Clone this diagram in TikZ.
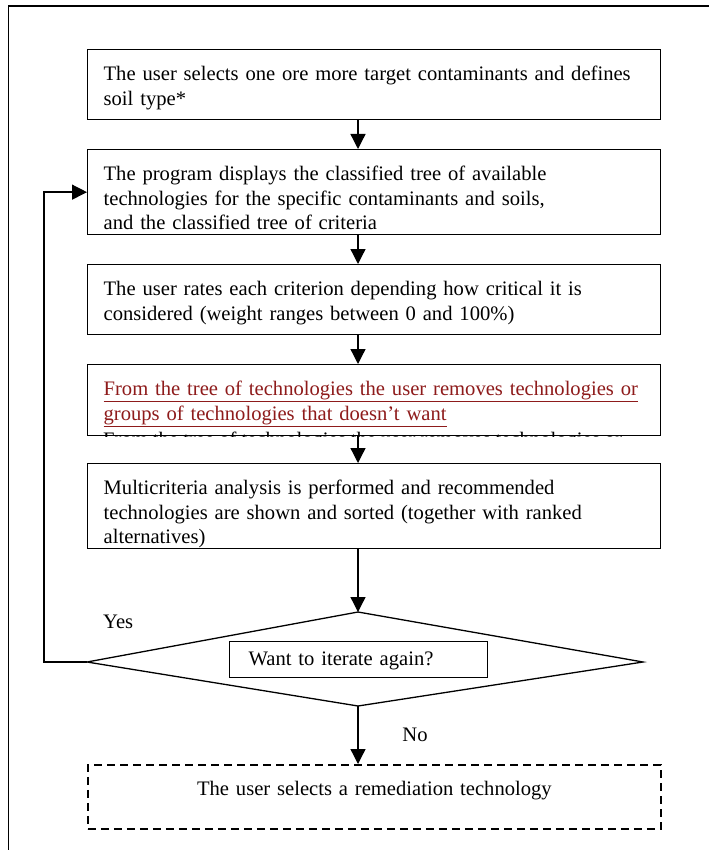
\documentclass[tikz,border=0pt]{standalone}
\usepackage{fontspec}
\setmainfont{Liberation Serif}
\usetikzlibrary{arrows.meta}
\definecolor{Ink}{HTML}{000000}
\definecolor{Rust}{HTML}{8E1B1B}

\begin{document}
\hyphenpenalty=10000
\exhyphenpenalty=10000
\begin{tikzpicture}[x=1pt,y=-1pt,
  stepbox/.style={draw=Ink,line width=1.3pt,fill=white,anchor=north west,
    minimum width=573pt,inner xsep=16pt,inner ysep=0pt,text width=541pt,
    align=left,text height=31pt,text depth=#1},
  askbox/.style={draw=Ink,line width=1.3pt,fill=white,anchor=north west,
    inner xsep=19pt,inner ysep=0pt,text width=220pt,align=left,
    text height=24pt,text depth=12pt},
  endbox/.style={draw=Ink,line width=1.8pt,dash pattern=on 8pt off 5pt,
    anchor=north west,minimum width=573pt,inner xsep=16pt,inner ysep=0pt,
    text width=541pt,align=center,text height=31pt,text depth=33pt},
  flow/.style={draw=Ink,line width=1.3pt,-{Triangle[length=15pt,width=15pt]}},
  every node/.style={text=Ink,font=\fontsize{20.6}{24.5}\selectfont}]
  \useasboundingbox (0,0) rectangle (709,850);
  % frame
  \draw[line width=1.8pt] (8.5,850) -- (8.5,6) -- (709,6);
  % steps
  \node[stepbox=39pt] (pick) at (87,49) {The user selects one ore more target contaminants and defines\\
    soil type*};
  \node[stepbox=54pt] (show) at (87,149) {The program displays the classified tree of available\\
    technologies for the specific contaminants and soils,\\
    and the classified tree of criteria};
  \node[stepbox=39pt] (rate) at (87,264) {The user rates each criterion depending how critical it is\\
    considered (weight ranges between 0 and 100\%)};
  \node[stepbox=40pt] (cut) at (87,364) {\textcolor{Rust}{\underline{From the tree of technologies the user removes technologies or}}\\
    \textcolor{Rust}{\underline{groups of technologies that doesn’t want}}};
  \begin{scope}
    \clip (cut.south west) rectangle (cut.north east);
    \node[anchor=base west,inner sep=0pt] (cutrest) at (103,446) {From the tree of technologies the user removes technologies or};
  \end{scope}
  \node[stepbox=54pt] (rank) at (87,463) {Multicriteria analysis is performed and recommended\\
    technologies are shown and sorted (together with ranked\\
    alternatives)};
  % decision
  \coordinate (dtop) at (358,612);
  \coordinate (dleft) at (87,662);
  \coordinate (dright) at (643,662);
  \coordinate (dbot) at (358,706);
  \draw[line width=1.3pt] (dtop) -- (dright) -- (dbot) -- (dleft) -- cycle;
  \node[askbox] (ask) at (229,641) {Want to iterate again?};
  \node[anchor=base west,inner sep=0pt] (yes) at (103,628) {Yes};
  \node[anchor=base,inner sep=0pt] (no) at (415,741) {No};
  \node[endbox] (done) at (87,764) {The user selects a remediation technology};
  % connectors
  \coordinate (ax) at (358,0);
  \coordinate (lx) at (44,0);
  \draw[flow] (pick.south -| ax) -- (show.north -| ax);
  \draw[flow] (show.south -| ax) -- (rate.north -| ax);
  \draw[flow] (rate.south -| ax) -- (cut.north -| ax);
  \draw[flow] (cut.south -| ax) -- (rank.north -| ax);
  \draw[flow] (rank.south -| ax) -- (dtop);
  \draw[flow] (dbot) -- (done.north -| ax);
  \draw[flow] (dleft) -- (dleft -| lx) |- (show.west);
\end{tikzpicture}
\end{document}
